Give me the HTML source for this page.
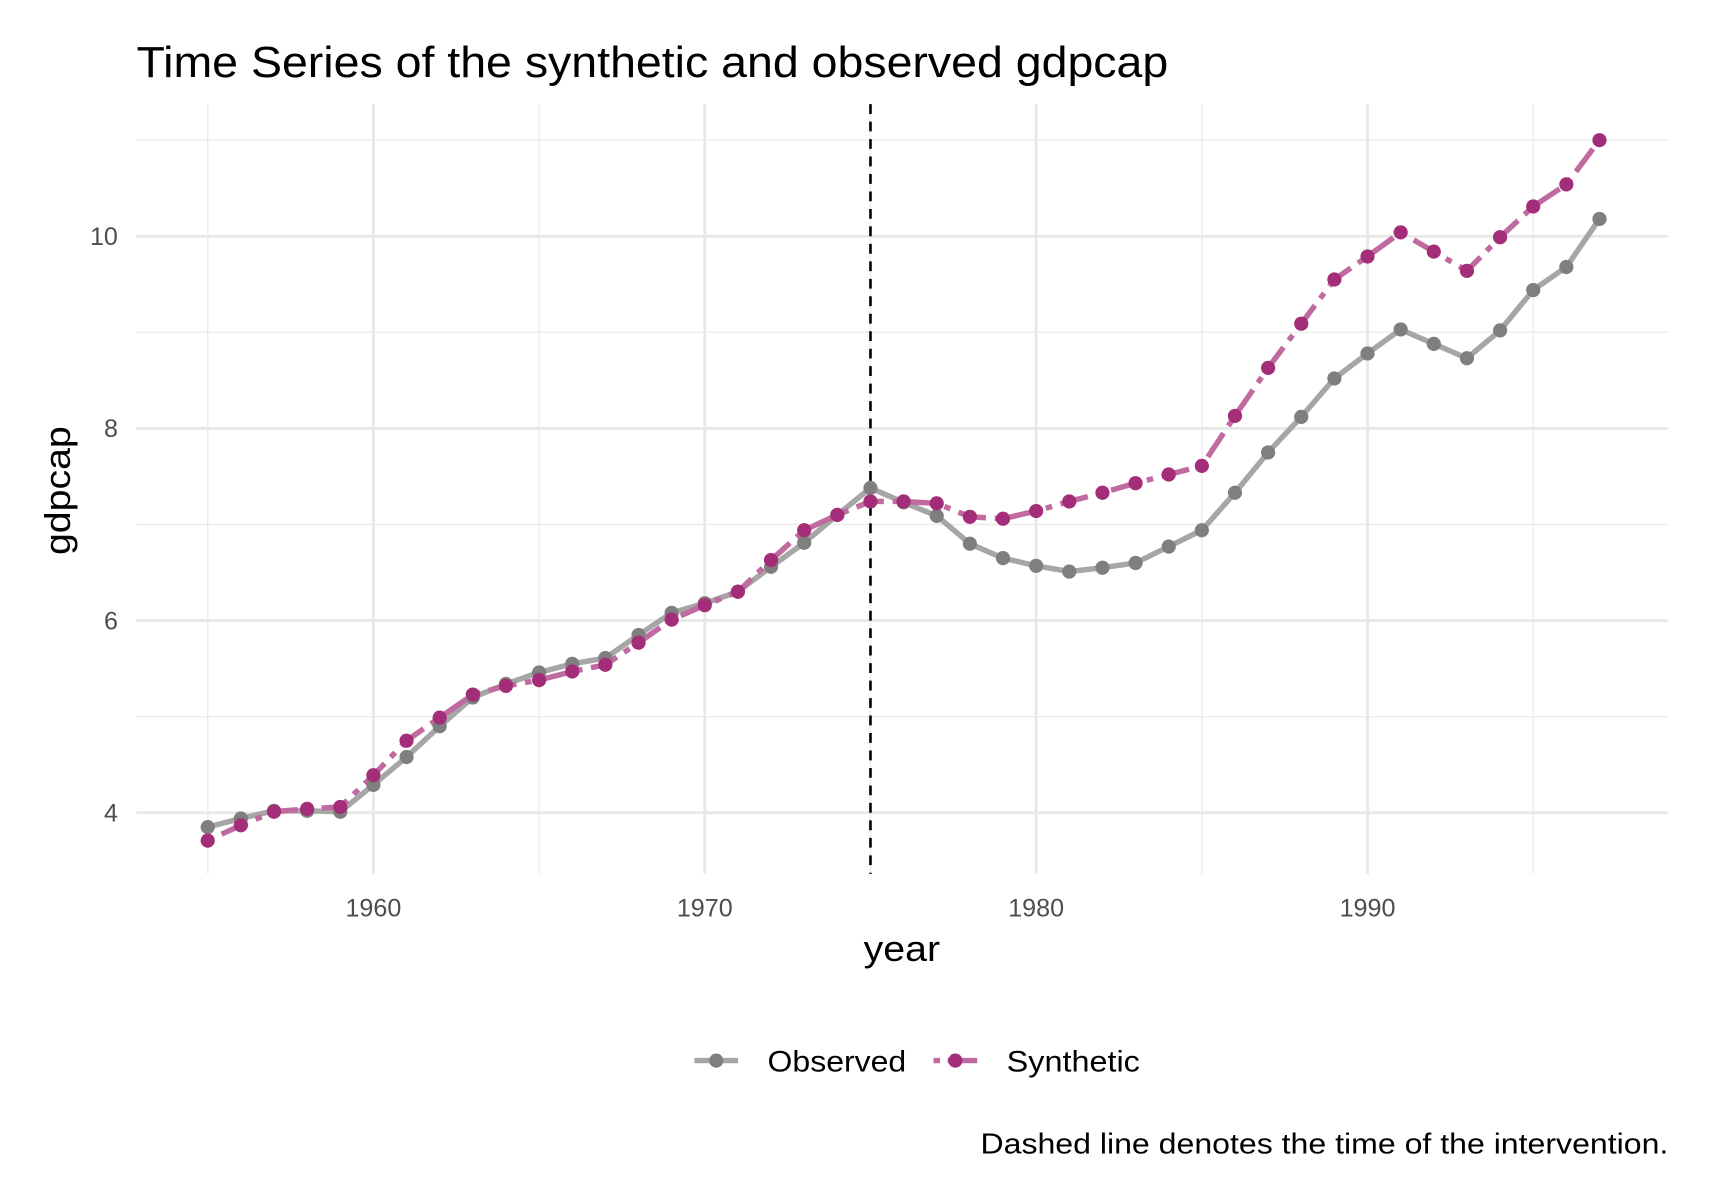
<!DOCTYPE html>
<html><head><meta charset="utf-8"><style>
html,body{margin:0;padding:0;background:#fff;}
svg{display:block;font-family:"Liberation Sans",sans-serif;}
</style></head><body>
<svg id="chart" width="1712" height="1180" viewBox="0 0 1568 1080" xmlns="http://www.w3.org/2000/svg">
<rect width="1568" height="1080" fill="#fff"/>
<text x="125" y="70" font-size="40" fill="#000" textLength="945" lengthAdjust="spacingAndGlyphs">Time Series of the synthetic and observed gdpcap</text>
<g id="grid"></g>
<g id="axes"></g>
<g id="series"></g>
<text x="826" y="880" font-size="33" text-anchor="middle" textLength="70" lengthAdjust="spacingAndGlyphs">year</text>
<text transform="translate(64,449) rotate(-90)" font-size="33" text-anchor="middle" textLength="118" lengthAdjust="spacingAndGlyphs">gdpcap</text>
<g>
  <g>
    <line x1="636" y1="971" x2="676" y2="971" stroke="#a6a6a6" stroke-width="5"/>
    <circle cx="656" cy="971" r="6.5" fill="#7f7f7f"/>
    <text x="703" y="981" font-size="27" textLength="127" lengthAdjust="spacingAndGlyphs">Observed</text>
  </g>
  <g>
    <line x1="855" y1="971" x2="895" y2="971" stroke="#c06aa0" stroke-width="5" stroke-dasharray="6 7 30 8"/>
    <circle cx="875" cy="971" r="6.5" fill="#a32d78"/>
    <text x="922" y="981" font-size="27" textLength="122" lengthAdjust="spacingAndGlyphs">Synthetic</text>
  </g>
</g>
<text x="1528" y="1056" font-size="26" text-anchor="end" textLength="630" lengthAdjust="spacingAndGlyphs">Dashed line denotes the time of the intervention.</text>
</svg>
<script>
const years = [];
for (let y = 1955; y <= 1997; y++) years.push(y);
const observed = [3.85,3.94,4.02,4.02,4.01,4.29,4.58,4.90,5.20,5.34,5.46,5.55,5.61,5.85,6.08,6.18,6.30,6.56,6.81,7.10,7.38,7.23,7.09,6.80,6.65,6.57,6.51,6.55,6.60,6.77,6.94,7.33,7.75,8.12,8.52,8.78,9.03,8.88,8.73,9.02,9.44,9.68,10.18];
const synthetic = [3.71,3.87,4.01,4.04,4.06,4.39,4.75,4.99,5.23,5.32,5.38,5.47,5.54,5.77,6.01,6.16,6.30,6.63,6.94,7.10,7.24,7.24,7.22,7.08,7.06,7.14,7.24,7.33,7.43,7.52,7.61,8.13,8.63,9.09,9.55,9.79,10.04,9.84,9.64,9.99,10.31,10.54,11.00];
const xTicks = [1960,1970,1980,1990];
const xMinor = [1955,1965,1975,1985,1995];
const yTicks = [4,6,8,10];
const yMinor = [5,7,9,11];
const interventionYear = 1975;

const NS = "http://www.w3.org/2000/svg";
const X = v => 342 + (v - 1960) * 30.35;
const Y = v => 744 - (v - 4) * 88;
const PL = 125, PR = 1528, PT = 95, PB = 800;
function mk(tag, attrs, parent) {
  const e = document.createElementNS(NS, tag);
  for (const k in attrs) e.setAttribute(k, attrs[k]);
  parent.appendChild(e);
  return e;
}
const grid = document.getElementById('grid');
const axes = document.getElementById('axes');
const series = document.getElementById('series');

yMinor.forEach(v => {
  const l = mk('line', {x1: PL, x2: PR, y1: Y(v), y2: Y(v), stroke: '#ececec', 'stroke-width': 1.3}, grid);
  
  
});
xMinor.forEach(v => {
  const l = mk('line', {x1: X(v), x2: X(v), y1: PT, y2: PB, stroke: '#ececec', 'stroke-width': 1.3}, grid);
  
  
});
yTicks.forEach(v => {
  const l = mk('line', {x1: PL, x2: PR, y1: Y(v), y2: Y(v), stroke: '#e8e8e8', 'stroke-width': 2.6}, grid);
  
  
  const t = mk('text', {x: 108, y: Y(v) + 8, 'font-size': 23, fill: '#4d4d4d', 'text-anchor': 'end'}, axes);
  t.textContent = v;
  
  
});
xTicks.forEach(v => {
  const l = mk('line', {x1: X(v), x2: X(v), y1: PT, y2: PB, stroke: '#e8e8e8', 'stroke-width': 2.6}, grid);
  
  
  const t = mk('text', {x: X(v), y: 839, 'font-size': 23, fill: '#4d4d4d', 'text-anchor': 'middle'}, axes);
  t.textContent = v;
  
  
});

function pts(arr) { return arr.map((v, i) => X(years[i]) + ',' + Y(v)).join(' '); }
const lo = mk('polyline', {points: pts(observed), fill: 'none', stroke: '#a6a6a6', 'stroke-width': 5, 'stroke-linejoin': 'round'}, series);


const ls = mk('polyline', {points: pts(synthetic), fill: 'none', stroke: '#c06aa0', 'stroke-width': 5, 'stroke-dasharray': '6 8 26 8'}, series);



const vl = mk('line', {x1: X(interventionYear), x2: X(interventionYear), y1: PT, y2: PB, stroke: '#000', 'stroke-width': 2.4, 'stroke-dasharray': '9 7'}, series);



observed.forEach((v, i) => {
  const c = mk('circle', {cx: X(years[i]), cy: Y(v), r: 6.5, fill: '#7f7f7f'}, series);
  
  
});
synthetic.forEach((v, i) => {
  const c = mk('circle', {cx: X(years[i]), cy: Y(v), r: 6.5, fill: '#a32d78'}, series);
  
  
});
</script>
</body></html>
